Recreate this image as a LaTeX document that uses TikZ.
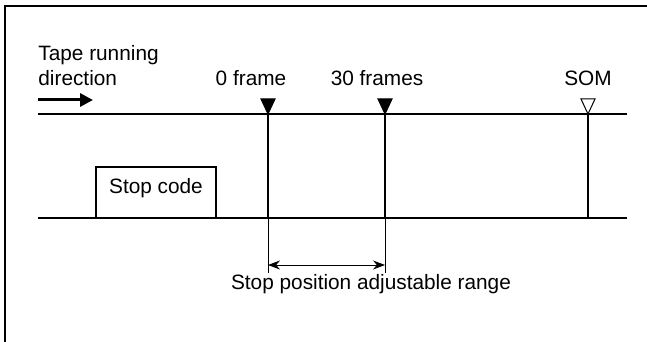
\documentclass[tikz,border=0pt]{standalone}
\usepackage{fontspec}
\setmainfont{Liberation Sans}
\usetikzlibrary{arrows.meta}
\tikzset{
  tape/.style={line width=1pt},
  tick/.style={line width=.75pt},
  thin tick/.style={line width=.4pt},
  label/.style={inner sep=0pt,anchor=base},
  fullmark/.style={fill=black,line width=.5pt,line join=miter},
  openmark/.style={fill=white,line width=.5pt,line join=miter},
}
\begin{document}
\begin{tikzpicture}[x=.5pt,y=-.5pt,font=\fontsize{10.4}{12.5}\selectfont]
\useasboundingbox (0,0) rectangle (647,342);
% frame (cut off at right and bottom)
\draw[line width=1pt] (5,342) -- (5,6) -- (647,6);
% tape lines
\coordinate (tl) at (38,114); \coordinate (tr) at (627,114);
\coordinate (bl) at (38,218); \coordinate (br) at (627,218);
\draw[tape] (tl) -- (tr) (bl) -- (br);
% running direction
\node[label,anchor=base west] (tape) at (38,61) {Tape running};
\node[label,anchor=base west] (dir) at (38,86) {direction};
\coordinate (d0) at (38,100); \coordinate (d1) at (93,100);
\draw[line width=1.5pt,-{Triangle[length=6.5pt,width=6.5pt]}] (d0) -- (d1);
% stop code
\draw[line width=.75pt] (96,218) -- (96,167) -- (216,167) -- (216,218);
\node[label] (code) at (156,193) {Stop code};
% positions on the tape
\foreach \n/\x/\s in {zero/268/fullmark,thirty/385/fullmark,som/588/openmark}{
  \coordinate (\n t) at (\x,114); \coordinate (\n b) at (\x,218);
  \draw[tick] (\n t) -- (\n b);
  \draw[\s] (\x-7,99) -- (\x+7,99) -- (\n t) -- cycle;
}
\node[label] (zerotxt) at (251,86) {0 frame};
\node[label] (thirtytxt) at (377,86) {30 frames};
\node[label] (somtxt) at (588,86) {SOM};
% adjustable range
\coordinate (zeroe) at (268,273); \coordinate (thirtye) at (385,273);
\draw[thin tick] (zerob) -- (zeroe) (thirtyb) -- (thirtye);
\coordinate (ra) at (268,265); \coordinate (rb) at (385,265);
\draw[thin tick,{Stealth[length=6pt,width=4.5pt]}-{Stealth[length=6pt,width=4.5pt]}] (ra) -- (rb);
\node[label] (range) at (371,289) {Stop position adjustable range};
\end{tikzpicture}
\end{document}
